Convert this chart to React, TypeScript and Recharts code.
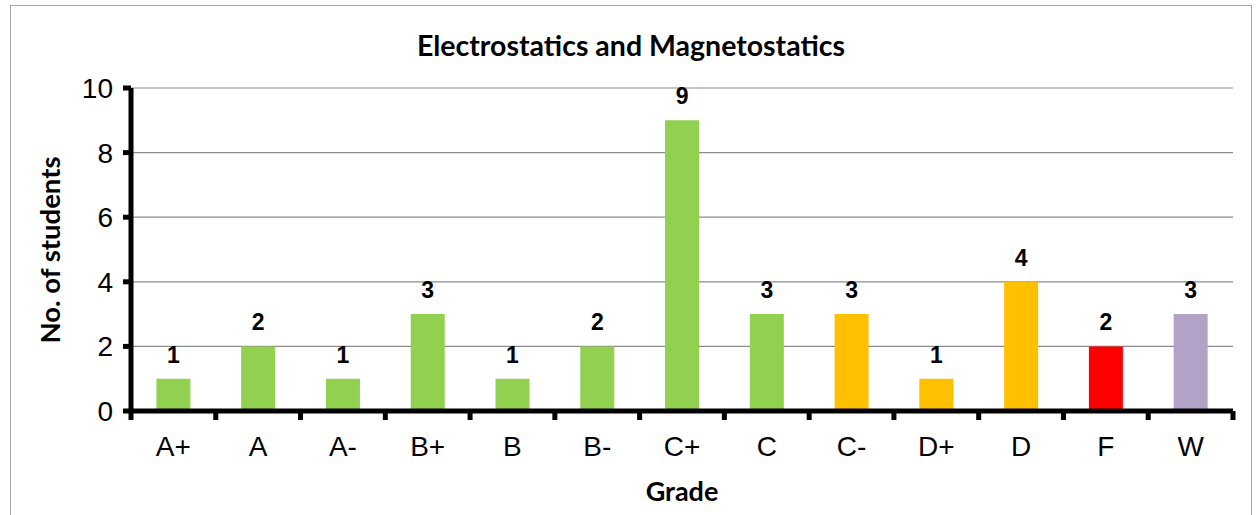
import { BarChart, Bar, XAxis, YAxis, CartesianGrid, Cell, LabelList } from "recharts";

const grades = ["A+", "A", "A-", "B+", "B", "B-", "C+", "C", "C-", "D+", "D", "F", "W"];
const students = [1, 2, 1, 3, 1, 2, 9, 3, 3, 1, 4, 2, 3];
const barColors = [
    "#92D050", "#92D050", "#92D050", "#92D050", "#92D050", "#92D050", "#92D050",
    "#92D050", "#FFC000", "#FFC000", "#FFC000", "#FF0000", "#B3A2C7",
];
const yTicks = [0, 2, 4, 6, 8, 10];

const data = grades.map((g, i) => ({ grade: g, students: students[i] }));

const chartW = 1240;
const chartH = 515;
const margin = { top: 82, right: 18, left: 0, bottom: 50 };
const yAxisW = 120;
const plotW = chartW - margin.left - margin.right - yAxisW;
const step = plotW / grades.length;

const labelFont = "Lato, 'Open Sans', sans-serif";
const tickFont = "'Liberation Sans', Arial, sans-serif";

const GradeTick = (props: any) => {
    const { x, y, payload, index } = props;
    const left = x - step / 2;
    return (
        <g>
            <rect x={left - 2.5} y={y - 8} width={5} height={9} fill="#000" />
            {index === grades.length - 1 && (
                <rect x={left + step - 2.5} y={y - 8} width={5} height={9} fill="#000" />
            )}
            <text
                x={x}
                y={y + 37}
                textAnchor="middle"
                fontFamily={tickFont}
                fontSize={28}
                fill="#000"
            >
                {payload.value}
            </text>
        </g>
    );
};

const App = () => {
    return (
        <div
            style={{
                position: "absolute",
                left: 10,
                top: 5,
                width: 1242,
                height: 530,
                border: "1px solid #a6a6a6",
                boxSizing: "border-box",
                background: "#fff",
            }}
        >
            <div
                style={{
                    position: "absolute",
                    left: 0,
                    top: 22,
                    width: chartW,
                    textAlign: "center",
                    fontFamily: labelFont,
                    fontWeight: 700,
                    fontSize: 28.5,
                    color: "#000",
                }}
            >
                Electrostatics and Magnetostatics
            </div>
            <BarChart width={chartW} height={chartH} data={data} margin={margin} barCategoryGap="30%">
                <CartesianGrid vertical={false} horizontalValues={[2, 4, 6, 8, 10]} stroke="#8c8c8c" strokeWidth={1.2} />
                <XAxis
                    dataKey="grade"
                    height={60}
                    axisLine={{ stroke: "#000", strokeWidth: 5 }}
                    tickLine={false}
                    tick={<GradeTick />}
                    interval={0}
                    label={{
                        content: () => (
                            <text
                                x={671}
                                y={484}
                                textAnchor="middle"
                                dominantBaseline="central"
                                fontFamily={labelFont}
                                fontWeight={700}
                                fontSize={27}
                                fill="#000"
                            >
                                Grade
                            </text>
                        ),
                    }}
                />
                <YAxis
                    width={yAxisW}
                    domain={[0, 10]}
                    ticks={yTicks}
                    interval={0}
                    axisLine={{ stroke: "#000", strokeWidth: 5 }}
                    tickLine={{ stroke: "#000", strokeWidth: 5 }}
                    tickSize={8}
                    tickMargin={10}
                    tick={{ fontFamily: tickFont, fontSize: 28, fill: "#000" }}
                    label={{
                        content: () => (
                            <text
                                x={38}
                                y={244}
                                transform="rotate(-90 38 244)"
                                textAnchor="middle"
                                dominantBaseline="central"
                                fontFamily={labelFont}
                                fontWeight={700}
                                fontSize={27.5}
                                fill="#000"
                            >
                                No. of students
                            </text>
                        ),
                    }}
                />
                <Bar dataKey="students" isAnimationActive={false}>
                    {data.map((entry, index) => (
                        <Cell key={`cell-${index}`} fill={barColors[index]} />
                    ))}
                    <LabelList
                        dataKey="students"
                        position="top"
                        offset={16}
                        fontFamily={tickFont}
                        fontWeight={700}
                        fontSize={23}
                        fill="#000"
                    />
                </Bar>
            </BarChart>
        </div>
    );
};

export default App;
